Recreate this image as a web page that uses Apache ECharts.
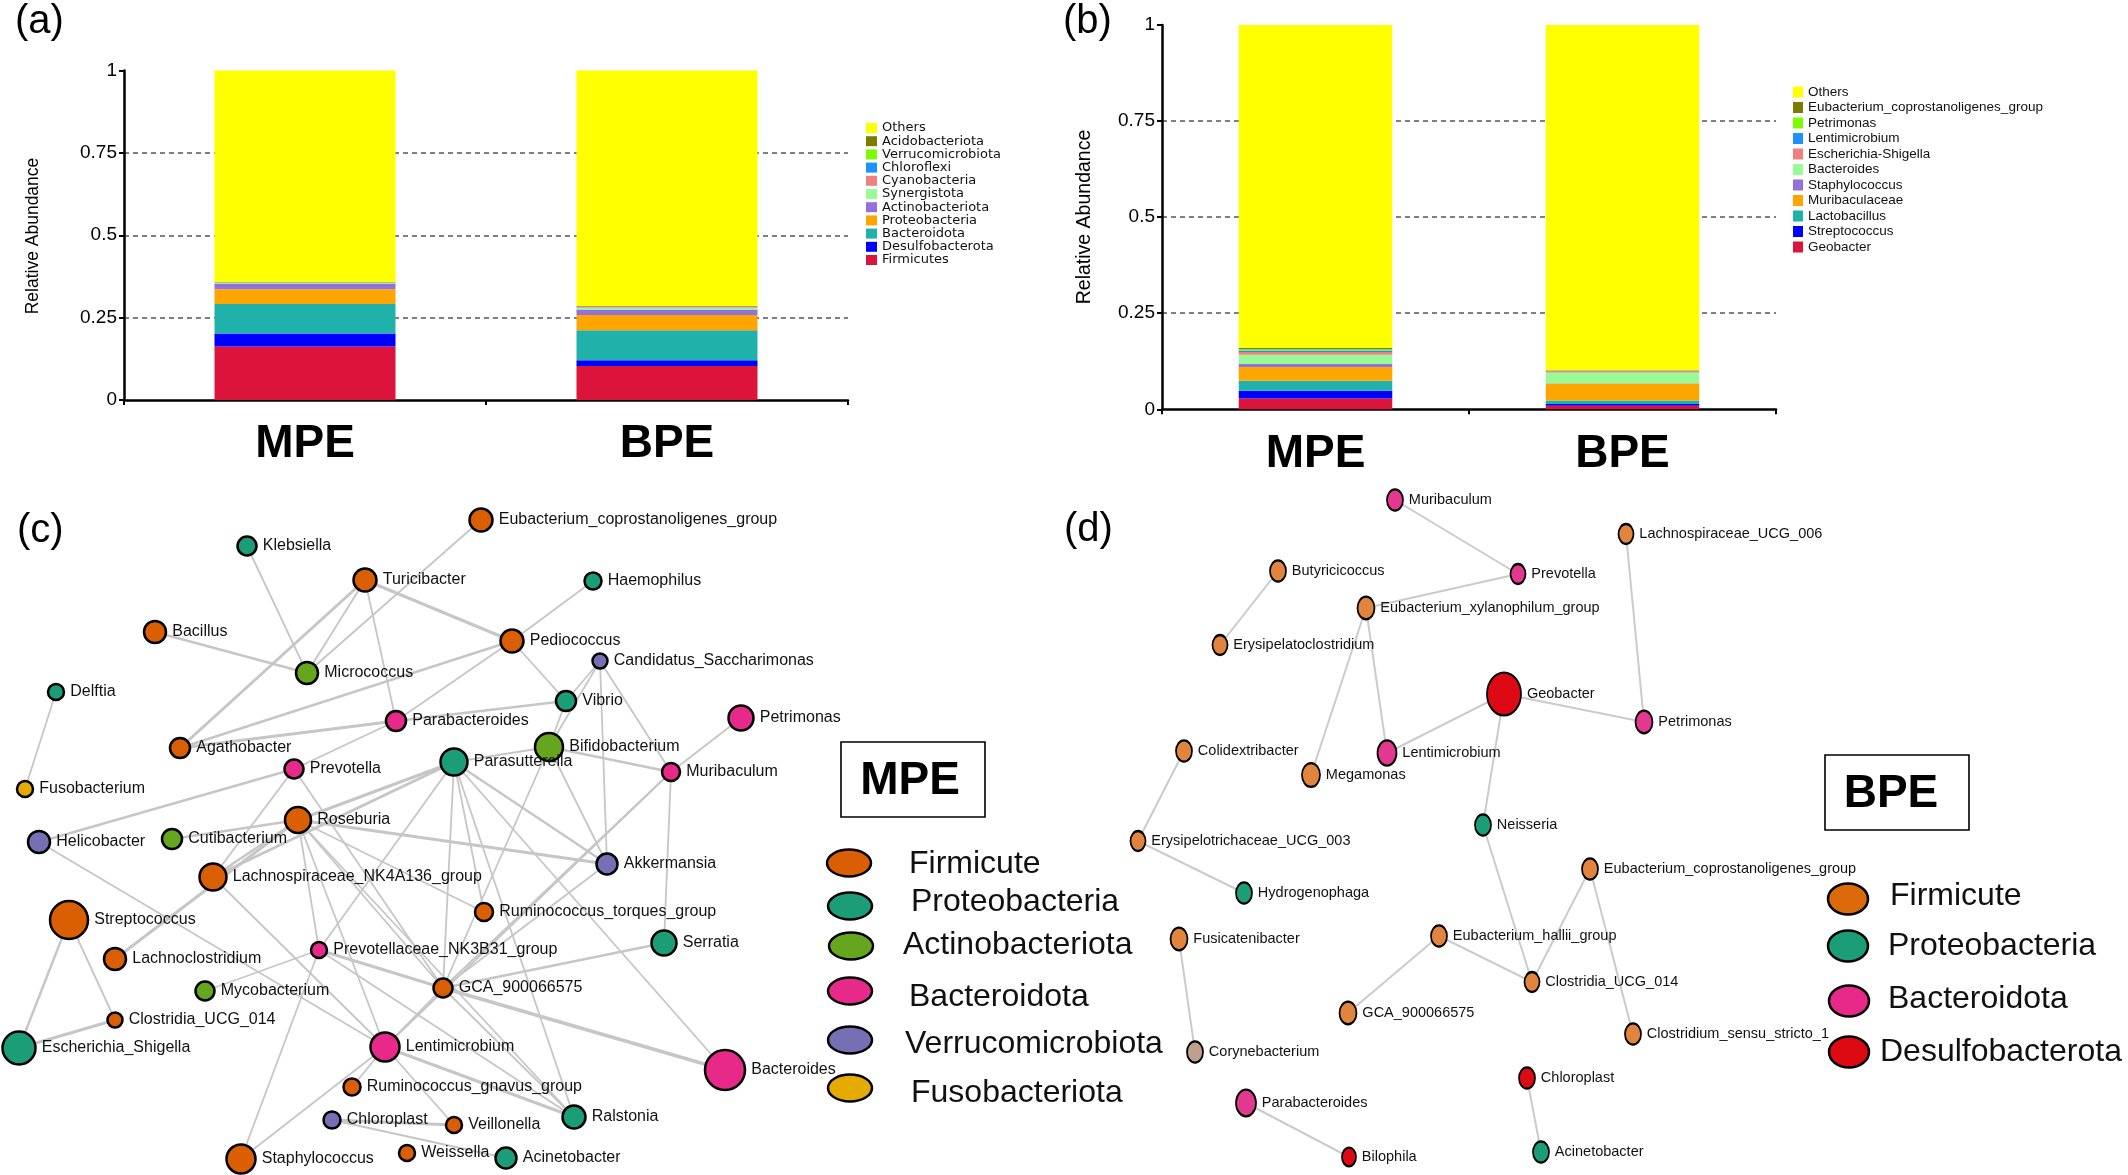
<!DOCTYPE html>
<html><head><meta charset="utf-8">
<script src="https://cdn.jsdelivr.net/npm/echarts@6/dist/echarts.min.js"></script>
<style>html,body{margin:0;padding:0;background:#fff}#c{width:2128px;height:1175px}</style>
</head><body><div id="c"></div>
<script>
// ---------------- DATA ----------------
const groups = ['MPE', 'BPE'];

// (a) phylum level, bottom -> top
const phylaA = ['Firmicutes','Desulfobacterota','Bacteroidota','Proteobacteria','Actinobacteriota','Synergistota','Cyanobacteria','Chloroflexi','Verrucomicrobiota','Acidobacteriota','Others'];
const phylaA_MPE = [0.162,0.040,0.089,0.045,0.016,0.002,0.001,0.001,0.001,0.002,0.641];
const phylaA_BPE = [0.103,0.018,0.091,0.046,0.017,0.005,0.002,0.001,0.001,0.001,0.715];

// (b) genus level, bottom -> top
const generaB = ['Geobacter','Streptococcus','Lactobacillus','Muribaculaceae','Staphylococcus','Bacteroides','Escherichia-Shigella','Lentimicrobium','Petrimonas','Eubacterium_coprostanoligenes_group','Others'];
const generaB_MPE = [0.028,0.020,0.026,0.036,0.008,0.024,0.007,0.004,0.003,0.004,0.840];
const generaB_BPE = [0.009,0.005,0.009,0.044,0.001,0.028,0.004,0.001,0.001,0.001,0.897];

const abundTicks = [0, 0.25, 0.5, 0.75, 1];

// (c) MPE co-occurrence network
const cNodes = ['Eubacterium_coprostanoligenes_group','Klebsiella','Turicibacter','Haemophilus','Bacillus','Pediococcus','Candidatus_Saccharimonas','Micrococcus','Delftia','Vibrio','Parabacteroides','Petrimonas','Agathobacter','Bifidobacterium','Parasutterella','Prevotella','Muribaculum','Fusobacterium','Roseburia','Helicobacter','Cutibacterium','Akkermansia','Lachnospiraceae_NK4A136_group','Streptococcus','Ruminococcus_torques_group','Serratia','Lachnoclostridium','Prevotellaceae_NK3B31_group','Mycobacterium','GCA_900066575','Clostridia_UCG_014','Escherichia_Shigella','Lentimicrobium','Bacteroides','Ruminococcus_gnavus_group','Ralstonia','Chloroplast','Veillonella','Staphylococcus','Weissella','Acinetobacter'];
const cPhylum = ['Firmicute','Proteobacteria','Firmicute','Proteobacteria','Firmicute','Firmicute','Verrucomicrobiota','Actinobacteriota','Proteobacteria','Proteobacteria','Bacteroidota','Bacteroidota','Firmicute','Actinobacteriota','Proteobacteria','Bacteroidota','Bacteroidota','Fusobacteriota','Firmicute','Verrucomicrobiota','Actinobacteriota','Verrucomicrobiota','Firmicute','Firmicute','Firmicute','Proteobacteria','Firmicute','Bacteroidota','Actinobacteriota','Firmicute','Firmicute','Proteobacteria','Bacteroidota','Bacteroidota','Firmicute','Proteobacteria','Verrucomicrobiota','Firmicute','Firmicute','Firmicute','Proteobacteria'];
const cLayoutX = [481,247,365,593,155,512,600,307,56,566,396,741,180,549,454,294,671,25,298,39,172,607,213,69,484,664,115,319,205,443,115,19,385,725,352,574,332,454,241,407,506];
const cLayoutY = [520,546,580,581,632,641,661,673,692,701,721,718,748,747,762,769,772,789,820,842,839,864,877,920,912,943,959,950,991,988,1020,1048,1047,1070,1087,1117,1120,1125,1159,1153,1158];
const cWeight = [11.5,9.5,11.5,8.5,11,11.5,7.5,11,8,10,10,12.5,10,14,13.5,9.5,9,8,13,11,10,10.5,13.5,19,9,12.5,11,8,9.5,9.5,7.5,16.5,14.5,20,8.5,11.5,8.5,8,14.5,8,10.5];
const cEdges = [
 ['Klebsiella','Micrococcus',1],['Turicibacter','Micrococcus',1],['Turicibacter','Agathobacter',2],['Turicibacter','Parabacteroides',1],
 ['Turicibacter','Pediococcus',2],['Eubacterium_coprostanoligenes_group','Micrococcus',1],['Haemophilus','Pediococcus',1],['Bacillus','Micrococcus',1.5],
 ['Pediococcus','Agathobacter',1.5],['Pediococcus','Parabacteroides',1],['Pediococcus','Vibrio',1],['Candidatus_Saccharimonas','Vibrio',1],
 ['Candidatus_Saccharimonas','Bifidobacterium',1],['Candidatus_Saccharimonas','Akkermansia',1],['Candidatus_Saccharimonas','Muribaculum',1],
 ['Vibrio','Parabacteroides',1.5],['Vibrio','Bifidobacterium',1],['Parabacteroides','Agathobacter',2],['Parabacteroides','Prevotella',1],
 ['Petrimonas','Muribaculum',1],['Bifidobacterium','Muribaculum',1.5],['Bifidobacterium','Parasutterella',1],['Delftia','Fusobacterium',1],
 ['Prevotella','Helicobacter',1.5],['Prevotella','Lachnospiraceae_NK4A136_group',1],['Prevotella','GCA_900066575',1],
 ['Parasutterella','Roseburia',2],['Parasutterella','Lachnospiraceae_NK4A136_group',2],['Parasutterella','Prevotellaceae_NK3B31_group',1],
 ['Parasutterella','GCA_900066575',1],['Parasutterella','Akkermansia',1.5],['Parasutterella','Bacteroides',1],['Parasutterella','Ruminococcus_torques_group',1],
 ['Parasutterella','Ralstonia',1],['Bifidobacterium','GCA_900066575',1],['Bifidobacterium','Akkermansia',1],['Muribaculum','Serratia',1],
 ['Muribaculum','GCA_900066575',1],['Muribaculum','Lentimicrobium',1],['Roseburia','Cutibacterium',1.5],['Roseburia','Lachnospiraceae_NK4A136_group',1.5],
 ['Roseburia','Lachnoclostridium',2],['Roseburia','Akkermansia',2],['Roseburia','Ruminococcus_torques_group',1],['Roseburia','Prevotellaceae_NK3B31_group',1],
 ['Roseburia','GCA_900066575',1],['Roseburia','Ralstonia',1],['Roseburia','Lentimicrobium',1],['Helicobacter','Lentimicrobium',1],
 ['Lachnospiraceae_NK4A136_group','Lentimicrobium',1],['Streptococcus','Escherichia_Shigella',1.5],['Streptococcus','Clostridia_UCG_014',1],
 ['Escherichia_Shigella','Clostridia_UCG_014',2],['Prevotellaceae_NK3B31_group','Mycobacterium',1],['Prevotellaceae_NK3B31_group','GCA_900066575',2],
 ['Prevotellaceae_NK3B31_group','Staphylococcus',1],['Prevotellaceae_NK3B31_group','Ralstonia',1],['GCA_900066575','Serratia',1.5],
 ['GCA_900066575','Bacteroides',2.5],['GCA_900066575','Lentimicrobium',1],['GCA_900066575','Ralstonia',1],['GCA_900066575','Akkermansia',1],
 ['Lentimicrobium','Staphylococcus',1],['Lentimicrobium','Ralstonia',2],['Lentimicrobium','Veillonella',1],['Lentimicrobium','Ruminococcus_gnavus_group',1],
 ['Chloroplast','Veillonella',2],['Chloroplast','Acinetobacter',1]
];

// (d) BPE co-occurrence network
const dNodes = ['Muribaculum','Butyricicoccus','Eubacterium_xylanophilum_group','Erysipelatoclostridium','Prevotella','Lachnospiraceae_UCG_006','Geobacter','Petrimonas','Colidextribacter','Lentimicrobium','Megamonas','Neisseria','Erysipelotrichaceae_UCG_003','Hydrogenophaga','Eubacterium_coprostanoligenes_group','Eubacterium_hallii_group','Fusicatenibacter','Clostridia_UCG_014','GCA_900066575','Clostridium_sensu_stricto_1','Corynebacterium','Chloroplast','Parabacteroides','Acinetobacter','Bilophila'];
const dPhylum = ['Bacteroidota','Firmicute','Firmicute','Firmicute','Bacteroidota','Firmicute','Desulfobacterota','Bacteroidota','Firmicute','Bacteroidota','Firmicute','Proteobacteria','Firmicute','Proteobacteria','Firmicute','Firmicute','Firmicute','Firmicute','Firmicute','Firmicute','Actinobacteria','Desulfobacterota','Bacteroidota','Proteobacteria','Desulfobacterota'];
const dLayoutX = [1395,1278,1366,1220,1518,1626,1504,1644,1184,1387,1311,1483,1138,1244,1590,1439,1179,1532,1348,1633,1195,1527,1246,1541,1349];
const dLayoutY = [500,571,608,645,574,534,694,722,751,753,775,825,841,893,869,936,939,982,1013,1034,1052,1078,1103,1152,1157];
const dWeight = [16,16,17,15,15,15,34,17,16,19,18,16,15,16,16,16,17,15,17,16,16,16,20,16,14];
const dEdges = [
 ['Muribaculum','Prevotella'],['Prevotella','Eubacterium_xylanophilum_group'],['Butyricicoccus','Erysipelatoclostridium'],
 ['Eubacterium_xylanophilum_group','Megamonas'],['Eubacterium_xylanophilum_group','Lentimicrobium'],['Lentimicrobium','Geobacter'],
 ['Geobacter','Petrimonas'],['Geobacter','Neisseria'],['Lachnospiraceae_UCG_006','Petrimonas'],['Colidextribacter','Erysipelotrichaceae_UCG_003'],
 ['Erysipelotrichaceae_UCG_003','Hydrogenophaga'],['Fusicatenibacter','Corynebacterium'],['Parabacteroides','Bilophila'],
 ['Neisseria','Clostridia_UCG_014'],['Eubacterium_hallii_group','Clostridia_UCG_014'],['Eubacterium_hallii_group','GCA_900066575'],
 ['Eubacterium_coprostanoligenes_group','Clostridia_UCG_014'],['Eubacterium_coprostanoligenes_group','Clostridium_sensu_stricto_1'],
 ['Chloroplast','Acinetobacter']
];

const legendC = ['Firmicute','Proteobacteria','Actinobacteriota','Bacteroidota','Verrucomicrobiota','Fusobacteriota'];
const legendD = ['Firmicute','Proteobacteria','Bacteroidota','Desulfobacterota'];

// ---------------- STYLE ----------------
const FONT = '"Liberation Sans", Arial, Helvetica, sans-serif';
const colA = {Firmicutes:'#DC143C',Desulfobacterota:'#0000FF',Bacteroidota:'#20B2AA',Proteobacteria:'#FFA500',Actinobacteriota:'#9370DB',Synergistota:'#98FB98',Cyanobacteria:'#F08080',Chloroflexi:'#1E90FF',Verrucomicrobiota:'#7CFC00',Acidobacteriota:'#7B7B00',Others:'#FFFF00'};
const colB = {Geobacter:'#DC143C',Streptococcus:'#0000FF',Lactobacillus:'#20B2AA',Muribaculaceae:'#FFA500',Staphylococcus:'#9370DB',Bacteroides:'#98FB98','Escherichia-Shigella':'#F08080',Lentimicrobium:'#1E90FF',Petrimonas:'#7CFC00',Eubacterium_coprostanoligenes_group:'#7B7B00',Others:'#FFFF00'};
const colC = {Firmicute:'#D95F02',Proteobacteria:'#1B9E77',Actinobacteriota:'#66A61E',Bacteroidota:'#E7298A',Verrucomicrobiota:'#7570B3',Fusobacteriota:'#E6AB02'};
const colD = {Firmicute:'#E1853E',Proteobacteria:'#1B9E77',Bacteroidota:'#E33890',Desulfobacterota:'#DD0A14',Actinobacteria:'#BFA090'};
const colDLegend = {Firmicute:'#DD6A0A',Proteobacteria:'#1B9E77',Bacteroidota:'#E7298A',Desulfobacterota:'#DD0A14'};

function axisSet(gridIndex, fontSizeTick, margin) {
  return {
    x: {type:'category', gridIndex, data:groups,
        axisLine:{show:true, lineStyle:{color:'#000', width:2.5}},
        axisTick:{show:true, length:5, lineStyle:{color:'#000', width:2}},
        axisLabel:{fontSize:46, fontWeight:'bold', color:'#000', margin:margin, fontFamily:FONT}},
    y: {type:'value', gridIndex, min:0, max:1, interval:0.25,
        axisLine:{show:true, lineStyle:{color:'#000', width:2.5}},
        axisTick:{show:true, length:5, lineStyle:{color:'#000', width:2}},
        axisLabel:{fontSize:fontSizeTick, color:'#000', margin:7, fontFamily:FONT,
                   formatter: v => abundTicks.indexOf(v) >= 0 ? String(v) : ''},
        splitLine:{show:true, showMinLine:false, showMaxLine:false,
                   lineStyle:{color:'#555', width:1.5, type:[5,4]}}}
  };
}
const axA = axisSet(0, 19, 21), axB = axisSet(1, 19, 22);

const seriesA = phylaA.map((n,i) => ({name:n, type:'bar', stack:'a', xAxisIndex:0, yAxisIndex:0, barWidth:'50%',
  data:[phylaA_MPE[i], phylaA_BPE[i]], itemStyle:{color:colA[n]}, silent:true}));
const seriesB = generaB.map((n,i) => ({name:n, type:'bar', stack:'b', xAxisIndex:1, yAxisIndex:1, barWidth:'50%',
  data:[generaB_MPE[i], generaB_BPE[i]], itemStyle:{color:colB[n]}, silent:true}));

const lineW = w => w === 1 ? 1.8 : w === 1.5 ? 2.4 : w === 2 ? 3 : 3.6;
const graphC = {
  type:'graph', layout:'none', coordinateSystem:'cartesian2d', xAxisIndex:2, yAxisIndex:2, silent:true,
  data: cNodes.map((n,i) => ({name:n, value:[cLayoutX[i], cLayoutY[i]], symbol:'circle', symbolSize:cWeight[i]*2,
        itemStyle:{color:colC[cPhylum[i]], borderColor:'#000', borderWidth:2.5}})),
  links: cEdges.map(e => ({source:e[0], target:e[1], lineStyle:{width:lineW(e[2])}})),
  lineStyle:{color:'#C6C6C6', opacity:1, curveness:0},
  label:{show:true, position:'right', distance:5, fontSize:16, color:'#111', fontFamily:FONT, formatter:'{b}'},
  z:3
};
const graphD = {
  type:'graph', layout:'none', coordinateSystem:'cartesian2d', xAxisIndex:2, yAxisIndex:2, silent:true,
  data: dNodes.map((n,i) => ({name:n, value:[dLayoutX[i], dLayoutY[i]], symbol:'circle',
        symbolSize: n === 'Geobacter' ? [dWeight[i], dWeight[i]*1.26] : [dWeight[i], dWeight[i]*1.33],
        itemStyle:{color:colD[dPhylum[i]], borderColor:'#000', borderWidth:2}})),
  links: dEdges.map(e => ({source:e[0], target:e[1]})),
  lineStyle:{color:'#CBCBCB', width:2, opacity:1, curveness:0},
  label:{show:true, position:'right', distance:5, fontSize:14.5, color:'#111', fontFamily:FONT, formatter:'{b}'},
  z:3
};

// legend graphics for (c) and (d)
const legCEll = [[849,863],[850,906],[851,946],[850,991],[850,1040],[850,1088]];
const legCTxt = [[909,864],[911,902],[903,945],[909,997],[905,1044],[911,1093]];
const legDEll = [[1848,899],[1848,946],[1849,1001],[1849,1052]];
const legDTxt = [[1890,896],[1888,946],[1888,999],[1880,1052]];
const graphics = [];
function txt(x,y,t,size,opts) {
  graphics.push(Object.assign({type:'text', x, y, silent:true,
    style:Object.assign({text:t, fontSize:size, fontFamily:FONT, fill:'#111', textAlign:'left', textVerticalAlign:'middle'}, (opts&&opts.style)||{})},
    opts && opts.rotation ? {rotation:opts.rotation} : {}));
}
txt(15,22,'(a)',40,{style:{fill:'#000'}});
txt(1063,22,'(b)',40,{style:{fill:'#000'}});
txt(17,531,'(c)',40,{style:{fill:'#000'}});
txt(1064,530,'(d)',40,{style:{fill:'#000'}});
txt(33,236,'Relative Abundance',17.5,{rotation:Math.PI/2, style:{textAlign:'center', fill:'#000'}});
txt(1085,217,'Relative Abundance',19.5,{rotation:Math.PI/2, style:{textAlign:'center', fill:'#000'}});
legendC.forEach((n,i) => {
  graphics.push({type:'ellipse', silent:true, shape:{cx:legCEll[i][0], cy:legCEll[i][1], rx:22, ry:13.5},
    style:{fill:colC[n], stroke:'#000', lineWidth:2.5}});
  txt(legCTxt[i][0], legCTxt[i][1], n, 32);
});
legendD.forEach((n,i) => {
  graphics.push({type:'ellipse', silent:true, shape:{cx:legDEll[i][0], cy:legDEll[i][1], rx:20, ry:15.5},
    style:{fill:colDLegend[n], stroke:'#000', lineWidth:2.5}});
  txt(legDTxt[i][0], legDTxt[i][1], n, 32);
});
graphics.push({type:'rect', silent:true, shape:{x:841, y:742, width:144, height:75}, style:{fill:'none', stroke:'#000', lineWidth:1.6}});
txt(910,781,'MPE',46,{style:{textAlign:'center', fontWeight:'bold', fill:'#000'}});
graphics.push({type:'rect', silent:true, shape:{x:1825, y:755, width:144, height:75}, style:{fill:'none', stroke:'#000', lineWidth:1.6}});
txt(1891,794,'BPE',46,{style:{textAlign:'center', fontWeight:'bold', fill:'#000'}});

const option = {
  animation:false,
  backgroundColor:'#fff',
  textStyle:{fontFamily:FONT},
  grid:[
    {left:124, top:70.5, width:724, height:329.5},
    {left:1162, top:25, width:614, height:384.3},
    {left:0, top:0, width:2128, height:1175}
  ],
  xAxis:[axA.x, axB.x, {type:'value', gridIndex:2, min:0, max:2128, show:false}],
  yAxis:[axA.y, axB.y, {type:'value', gridIndex:2, min:0, max:1175, inverse:true, show:false}],
  legend:[
    {orient:'vertical', left:866, top:121.5, padding:0, itemWidth:11, itemHeight:10, itemGap:0.2, icon:'rect', selectedMode:false,
     data:phylaA.slice().reverse(), textStyle:{fontSize:13, lineHeight:10, color:'#111', fontFamily:'"DejaVu Sans", Verdana, sans-serif'}},
    {orient:'vertical', left:1793, top:85, padding:0, itemWidth:10, itemHeight:11, itemGap:1.5, icon:'rect', selectedMode:false,
     data:generaB.slice().reverse(), textStyle:{fontSize:13.5, lineHeight:11, color:'#111', fontFamily:FONT}}
  ],
  series:[...seriesA, ...seriesB, graphC, graphD],
  graphic:graphics
};
const chart = echarts.init(document.getElementById('c'), null, {renderer:'canvas'});
chart.setOption(option);
</script></body></html>
